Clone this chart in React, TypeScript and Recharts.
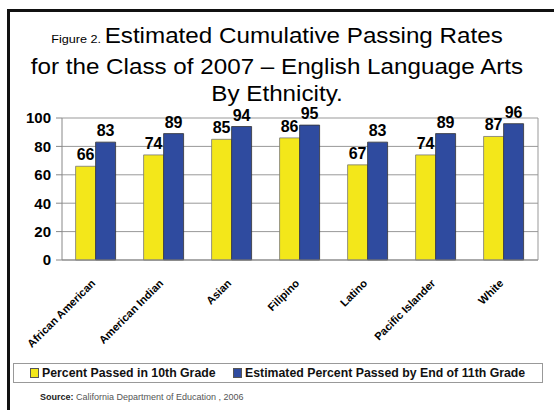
import React from "react";
import { BarChart, Bar, XAxis, YAxis, CartesianGrid, LabelList } from "recharts";

const categories = ["African American", "American Indian", "Asian", "Filipino", "Latino", "Pacific Islander", "White"];
const passed10th = [66, 74, 85, 86, 67, 74, 87];
const passed11th = [83, 89, 94, 95, 83, 89, 96];
const yTicks = [0, 20, 40, 60, 80, 100];
const seriesNames = ["Percent Passed in 10th Grade", "Estimated Percent Passed by End of 11th Grade"];
const seriesColors = ["#F3E71A", "#2F4B9F"];
const boundaryTicks = categories.map((_, i) => i).concat([categories.length]);

const data = categories.map((c, i) => ({ name: c, a: passed10th[i], b: passed11th[i] }));

const FONT = "'Liberation Sans', Arial, sans-serif";

const CatTick = (props: any) => {
  const { x, y, payload } = props;
  return (
    <text
      x={x}
      y={y + 16}
      transform={`rotate(-45, ${x}, ${y + 16})`}
      textAnchor="end"
      fontFamily={FONT}
      fontWeight="bold"
      fontSize={11}
      fill="#000"
    >
      {payload.value}
    </text>
  );
};

export default function App() {
  return (
    <div style={{ position: "absolute", left: 0, top: 0, width: 554, height: 410, background: "#fff", overflow: "hidden", fontFamily: FONT }}>
      <div style={{ position: "absolute", left: 7, top: 9, width: 560, height: 420, borderTop: "3px solid #111", borderLeft: "3px solid #111" }} />
      <div style={{ position: "absolute", left: 0, top: 22, width: 554, textAlign: "center", fontSize: 22, lineHeight: "27px", color: "#000", transform: "scaleX(1.1)", transformOrigin: "277px 0" }}>
        <div><span style={{ fontSize: 11.5 }}>Figure 2. </span>Estimated Cumulative Passing Rates</div>
        <div>for the Class of 2007 – English Language Arts</div>
        <div>By Ethnicity.</div>
      </div>
      <div style={{ position: "absolute", left: 0, top: 0 }}>
        <BarChart width={554} height={410} data={data} margin={{ top: 118, right: 0, left: 0, bottom: 50 }} barCategoryGap="20%" barGap={0}>
          <CartesianGrid vertical={false} stroke="#999" yAxisId="left" />
          <XAxis xAxisId="bound" type="number" domain={[0, categories.length]} ticks={boundaryTicks} height={0} axisLine={false} tick={false} tickLine={{ stroke: "#888" }} tickSize={5} allowDataOverflow />
          <XAxis xAxisId="cat" dataKey="name" height={100} interval={0} axisLine={{ stroke: "#888" }} tickLine={false} tick={<CatTick />} />
          <YAxis yAxisId="left" domain={[0, 100]} ticks={yTicks} width={62} axisLine={{ stroke: "#888" }} tickLine={{ stroke: "#888" }} tickSize={6} tick={{ fill: "#000", fontFamily: FONT, fontWeight: "bold", fontSize: 15, dx: -3 }} />
          <YAxis yAxisId="right" orientation="right" domain={[0, 100]} width={16} axisLine={{ stroke: "#999" }} tickLine={false} tick={false} />
          <Bar xAxisId="cat" yAxisId="left" dataKey="a" fill={seriesColors[0]} stroke="#777" strokeWidth={0.8} isAnimationActive={false}>
            <LabelList dataKey="a" position="top" offset={6} style={{ fill: "#000", fontFamily: FONT, fontWeight: "bold", fontSize: 16 }} />
          </Bar>
          <Bar xAxisId="cat" yAxisId="left" dataKey="b" fill={seriesColors[1]} stroke="#333" strokeWidth={0.8} isAnimationActive={false}>
            <LabelList dataKey="b" position="top" offset={6} style={{ fill: "#000", fontFamily: FONT, fontWeight: "bold", fontSize: 16 }} />
          </Bar>
        </BarChart>
      </div>
      <div style={{ position: "absolute", left: 13, top: 363, width: 528, height: 18, border: "1px solid #999", boxSizing: "content-box" }}>
        {seriesNames.map((n, i) => (
          <div key={n} style={{ position: "absolute", left: i === 0 ? 16 : 219, top: 1, display: "flex", alignItems: "center", fontSize: 12.3, fontWeight: "bold", color: "#111", whiteSpace: "nowrap", lineHeight: "16px" }}>
            <span style={{ display: "inline-block", width: 7, height: 8, background: seriesColors[i], border: "1px solid #555", marginRight: 3 }} />
            {n}
          </div>
        ))}
      </div>
      <div style={{ position: "absolute", left: 40, top: 392, fontSize: 9, color: "#555", whiteSpace: "nowrap" }}>
        <span style={{ fontWeight: "bold", color: "#222" }}>Source: </span>California Department of Education , 2006
      </div>
    </div>
  );
}
